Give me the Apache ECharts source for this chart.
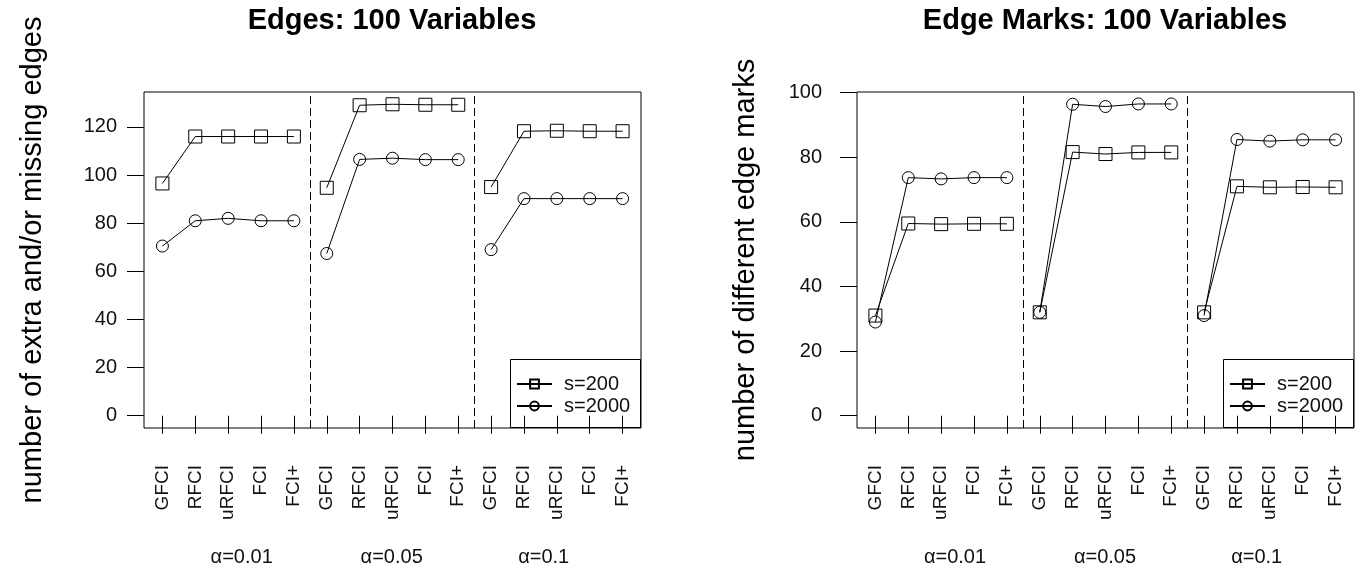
<!DOCTYPE html>
<html>
<head>
<meta charset="utf-8">
<script src="https://cdn.jsdelivr.net/npm/echarts@6/dist/echarts.min.js"></script>
<style>
html, body { margin: 0; padding: 0; background: #fff; }
#main { width: 1362px; height: 572px; }
</style>
</head>
<body>
<div id="main"></div>
<script>
// x positions 1..15, five methods per alpha level
var methods = ['GFCI', 'RFCI', 'uRFCI', 'FCI', 'FCI+'];
var alphas = ['\u03b1=0.01', '\u03b1=0.05', '\u03b1=0.1'];
var seriesNames = ['s=200', 's=2000'];

// Edges: 100 Variables
var edgesS200  = [96.5, 116, 116, 116, 116,   94.7, 129, 129.4, 129.2, 129.2,   95, 118.2, 118.4, 118.2, 118.2];
var edgesS2000 = [70.5, 81, 82, 81, 81,       67.4, 106.5, 107, 106.4, 106.4,   69, 90.2, 90.2, 90.2, 90.2];

// Edge Marks: 100 Variables
var marksS200  = [31, 59.5, 59.3, 59.4, 59.4,   32, 81.6, 81, 81.5, 81.5,     32, 71, 70.7, 70.8, 70.7];
var marksS2000 = [29, 73.7, 73.3, 73.7, 73.7,   32, 96.4, 95.7, 96.5, 96.5,   31, 85.5, 85, 85.4, 85.4];

var edgeTicks = [0, 20, 40, 60, 80, 100, 120];
var markTicks = [0, 20, 40, 60, 80, 100];

var xTicks = [];
for (var i = 1; i <= 15; i++) xTicks.push(i);

var font = 'Liberation Sans';

// break the line between alpha groups
function toPoints(vals) {
    var out = [];
    for (var i = 0; i < vals.length; i++) {
        out.push([i + 1, vals[i]]);
        if (i % 5 == 4 && i < vals.length - 1) out.push([i + 1.5, '-']);
    }
    return out;
}

function makeX(idx) {
    return {
        type: 'value', gridIndex: idx, min: 0.44, max: 15.56,
        splitLine: { show: false },
        axisLine: { show: false },
        axisTick: { show: true, length: 18, customValues: xTicks, lineStyle: { color: '#000' } },
        axisLabel: {
            customValues: xTicks, rotate: 90, margin: 37,
            fontSize: 19, fontFamily: font, color: '#111',
            formatter: function (v) { return methods[(Math.round(v) - 1) % 5]; }
        }
    };
}

function makeY(idx, min, max, ticks, name, margin) {
    return {
        type: 'value', gridIndex: idx, min: min, max: max,
        splitLine: { show: false },
        axisLine: { show: false },
        axisTick: { show: true, length: 17, customValues: ticks, lineStyle: { color: '#000' } },
        axisLabel: { customValues: ticks, margin: margin, fontSize: 20, fontFamily: font, color: '#111' },
        name: name, nameLocation: 'middle', nameRotate: 90, nameGap: 97,
        nameTextStyle: { fontSize: 29, fontFamily: font, color: '#000' }
    };
}

function makeSeries(name, idx, vals, symbol, size, withLines) {
    var s = {
        type: 'line', name: name, xAxisIndex: idx, yAxisIndex: idx,
        data: toPoints(vals),
        symbol: symbol, symbolSize: size,
        itemStyle: { color: 'transparent', borderColor: '#000', borderWidth: 1 },
        lineStyle: { color: '#000', width: 1 },
        emphasis: { disabled: true },
        connectNulls: false
    };
    if (withLines) {
        s.markLine = {
            silent: true, symbol: 'none', label: { show: false },
            lineStyle: { color: '#000', width: 1, type: [8, 4] },
            data: [{ xAxis: 5.5 }, { xAxis: 10.5 }]
        };
    }
    return s;
}

function legendAt(left) {
    return {
        data: seriesNames, orient: 'vertical', left: left, top: 374,
        padding: 0, itemGap: 2, itemWidth: 35, itemHeight: 11,
        textStyle: { fontSize: 20, fontFamily: font, color: '#111', lineHeight: 20, padding: [0, 0, 0, 7] }
    };
}

var graphics = [];
var alphaX = [[241.7, 391.7, 543.7], [955, 1105, 1256.7]];
alphaX.forEach(function (xs) {
    xs.forEach(function (x, k) {
        graphics.push({
            type: 'text', x: x, y: 557,
            style: { text: alphas[k], font: '20px ' + font, fill: '#111',
                     align: 'center', verticalAlign: 'middle', textAlign: 'center', textVerticalAlign: 'middle' }
        });
    });
});
// legend boxes
graphics.push({ type: 'rect', shape: { x: 510.5, y: 359.5, width: 130, height: 68 },
                style: { fill: 'none', stroke: '#000', lineWidth: 1 } });
graphics.push({ type: 'rect', shape: { x: 1223.5, y: 359.5, width: 130, height: 68 },
                style: { fill: 'none', stroke: '#000', lineWidth: 1 } });

var chart = echarts.init(document.getElementById('main'));
chart.setOption({
    animation: false,
    backgroundColor: '#fff',
    title: [
        { text: 'Edges: 100 Variables', left: 392, top: 6, textAlign: 'center', padding: 0,
          textStyle: { fontSize: 29, fontWeight: 'bold', fontFamily: font, color: '#000' } },
        { text: 'Edge Marks: 100 Variables', left: 1105, top: 6, textAlign: 'center', padding: 0,
          textStyle: { fontSize: 29, fontWeight: 'bold', fontFamily: font, color: '#000' } }
    ],
    grid: [
        { left: 144, top: 92, width: 497, height: 336, show: true, borderColor: '#000', borderWidth: 1, containLabel: false },
        { left: 857, top: 92, width: 497, height: 336, show: true, borderColor: '#000', borderWidth: 1, containLabel: false }
    ],
    xAxis: [makeX(0), makeX(1)],
    yAxis: [
        makeY(0, -5.1, 134.5, edgeTicks, 'number of extra and/or missing edges', 27),
        makeY(1, -3.8, 100.2, markTicks, 'number of different edge marks', 35)
    ],
    legend: [legendAt(516), legendAt(1229)],
    series: [
        makeSeries('s=200', 0, edgesS200, 'rect', 13, true),
        makeSeries('s=2000', 0, edgesS2000, 'circle', 12, false),
        makeSeries('s=200', 1, marksS200, 'rect', 13, true),
        makeSeries('s=2000', 1, marksS2000, 'circle', 12, false)
    ],
    graphic: graphics
});
</script>
</body>
</html>
